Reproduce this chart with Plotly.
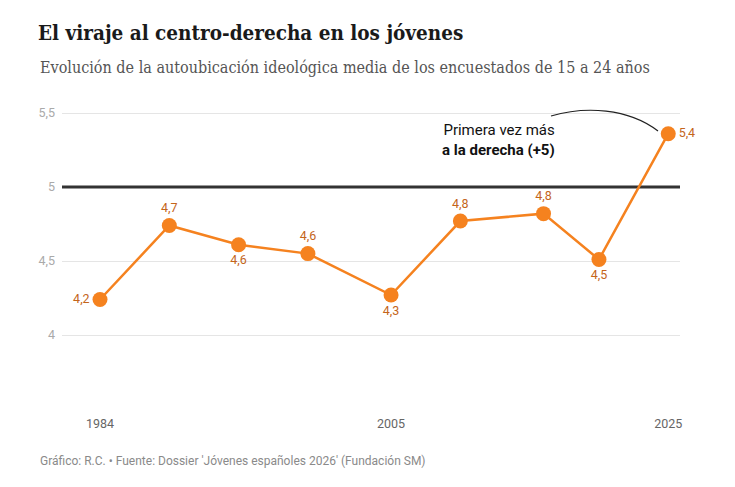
import plotly.graph_objects as go

years = [1984, 1989, 1994, 1999, 2005, 2010, 2016, 2020, 2025]
values = [4.24, 4.74, 4.61, 4.55, 4.27, 4.77, 4.82, 4.51, 5.36]
labels = ["4,2", "4,7", "4,6", "4,6", "4,3", "4,8", "4,8", "4,5", "5,4"]
label_pos = ["middle left", "top center", "bottom center", "top center", "bottom center",
             "top center", "top center", "bottom center", "middle right"]
y_grid_ticks = [4, 4.5, 5.5]
y_grid_text = ["4", "4,5", "5,5"]
ref_value = 5
ref_text = "5"
x_ticks = [1984, 2005, 2025]

W, H = 735, 487
L, R, T, B = 62, 55, 98, 78

fig = go.Figure()
fig.add_trace(go.Scatter(
    x=years, y=values, mode="lines+markers+text",
    line=dict(color="#f5821f", width=2.5),
    marker=dict(color="#f5821f", size=15),
    text=labels, textposition=label_pos,
    textfont=dict(family="Roboto", size=12.5, color="#c4651b"),
    cliponaxis=False, hoverinfo="skip", showlegend=False,
))

# reference line at 5
fig.add_shape(type="line", xref="paper", x0=0, x1=1, yref="y", y0=ref_value, y1=ref_value,
              line=dict(color="#333333", width=3), layer="between")


def px2x(p):
    return 1984 + (p - 100) / 13.86


def py2y(p):
    return 5.5 - (p - 113) / 148.0


path = "M {},{} C {},{} {},{} {},{}".format(
    px2x(551), py2y(116), px2x(585), py2y(106), px2x(628), py2y(108), px2x(658), py2y(131))
fig.add_shape(type="path", path=path, xref="x", yref="y",
              line=dict(color="#222222", width=1.2))

fig.add_annotation(x=px2x(557), y=py2y(140), xref="x", yref="y",
                   text="Primera vez más<br><b>a la derecha (+5)</b>",
                   showarrow=False, xanchor="right", yanchor="middle", align="right",
                   font=dict(family="Roboto", size=15, color="#111111"))

fig.add_annotation(x=(38 - L) / (W - L - R), y=(H - 67 - B) / (H - T - B), xref="paper", yref="paper",
                   text="Evolución de la autoubicación ideológica media de los encuestados de 15 a 24 años",
                   showarrow=False, xanchor="left", yanchor="middle",
                   font=dict(family="DejaVu Serif Condensed", size=16, color="#555555"))

fig.add_annotation(x=(38 - L) / (W - L - R), y=(H - 461 - B) / (H - T - B), xref="paper", yref="paper",
                   text="Gráfico: R.C. • Fuente: Dossier 'Jóvenes españoles 2026' (Fundación SM)",
                   showarrow=False, xanchor="left", yanchor="middle",
                   font=dict(family="Roboto", size=12, color="#8a8a8a"))

yrange = [py2y(98 + 311), py2y(98)]
tickfont_y = dict(family="Roboto", size=12.5, color="#aaaaaa")

fig.update_layout(
    width=W, height=H,
    margin=dict(l=L, r=R, t=T, b=B),
    plot_bgcolor="white", paper_bgcolor="white",
    title=dict(text="<b>El viraje al centro-derecha en los jóvenes</b>",
               x=38 / W, xanchor="left", y=1 - 33 / H, yanchor="middle",
               font=dict(family="DejaVu Serif Condensed", size=20.5, color="#1a1a1a")),
    xaxis=dict(range=[px2x(62), px2x(680)], tickvals=x_ticks, ticktext=[str(v) for v in x_ticks],
               showgrid=False, zeroline=False, showline=False, ticks="",
               tickfont=dict(family="Roboto", size=12.5, color="#666666"), ticklabelstandoff=5),
    yaxis=dict(range=yrange, tickvals=y_grid_ticks, ticktext=y_grid_text,
               showgrid=True, gridcolor="#e5e5e5", gridwidth=1, zeroline=False, showline=False,
               ticks="", tickfont=tickfont_y, ticklabelstandoff=6),
    yaxis2=dict(range=yrange, overlaying="y", side="left", tickvals=[ref_value], ticktext=[ref_text],
                showgrid=False, zeroline=False, showline=False, ticks="",
                tickfont=tickfont_y, ticklabelstandoff=6),
)
# invisible helper trace so yaxis2 is drawn
fig.add_trace(go.Scatter(x=[years[0]], y=[ref_value], yaxis="y2", mode="markers",
                         marker=dict(opacity=0), hoverinfo="skip", showlegend=False))

fig.write_html("out.html", post_script="document.body.style.margin='0';",
               config={"displayModeBar": False})
